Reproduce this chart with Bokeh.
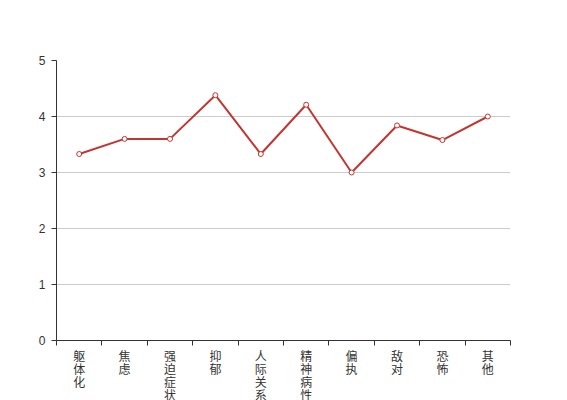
from bokeh.plotting import figure
from bokeh.layouts import column
from bokeh.models import FixedTicker, Range1d, ColumnDataSource
from bokeh.core.properties import value
from bokeh.embed import file_html
from bokeh.resources import INLINE

categories = ["躯体化", "焦虑", "强迫症状", "抑郁", "人际关系敏感", "精神病性", "偏执", "敌对", "恐怖", "其他"]
values = [3.33, 3.6, 3.6, 4.38, 3.33, 4.21, 3.0, 3.84, 3.58, 4.0]
y_ticks = [0, 1, 2, 3, 4, 5]

n = len(categories)
xs = [i + 0.5 for i in range(n)]
src = ColumnDataSource(dict(x=xs, y=values))
x_range = Range1d(0, n)

p = figure(width=567, height=348, output_backend="svg", toolbar_location=None,
           x_range=x_range, y_range=Range1d(0, 5),
           min_border_left=56, min_border_top=60, min_border_right=57, min_border_bottom=8)
p.outline_line_color = None

p.line("x", "y", source=src, line_color="#c23531", line_width=2)
p.scatter("x", "y", source=src, size=5, fill_color="white", line_color="#c23531", line_width=1)

# x axis: ticks at category boundaries
p.xaxis.ticker = FixedTicker(ticks=[], minor_ticks=list(range(n + 1)))
p.xaxis.major_label_text_font_size = "0px"
p.xaxis.major_label_standoff = 0
p.xaxis.minor_tick_out = 5
p.xaxis.minor_tick_in = 0
p.xaxis.minor_tick_line_color = "#333333"
p.xaxis.axis_line_color = "#333333"
p.xgrid.visible = False

# y axis
p.yaxis.ticker = FixedTicker(ticks=y_ticks)
p.yaxis.major_tick_out = 5
p.yaxis.major_tick_in = 0
p.yaxis.minor_tick_line_color = None
p.yaxis.axis_line_color = "#333333"
p.yaxis.major_tick_line_color = "#333333"
p.yaxis.major_label_text_font = "Liberation Sans"
p.yaxis.major_label_text_font_size = "12px"
p.yaxis.major_label_text_color = "#333333"
p.yaxis.major_label_standoff = 6
p.ygrid.ticker = FixedTicker(ticks=y_ticks[1:])
p.ygrid.grid_line_color = "#cccccc"

# category labels (vertical stacked characters) in a strip below, sharing the x range
lab_src = ColumnDataSource(dict(x=xs, y=[1] * n, text=["\n".join(c) for c in categories]))
q = figure(width=567, height=52, output_backend="svg", toolbar_location=None,
           x_range=x_range, y_range=Range1d(0, 1), x_axis_type=None, y_axis_type=None,
           min_border_left=56, min_border_top=0, min_border_right=57, min_border_bottom=0)
q.outline_line_color = None
q.grid.visible = False
q.text("x", "y", text="text", source=lab_src, text_align="center", text_baseline="top",
       text_font=value("Noto Sans CJK SC"), text_font_size="12px", text_color="#333333",
       text_line_height=0.77, y_offset=-2)

layout = column(p, q, spacing=0)
open("out.html", "w").write(file_html(layout, INLINE))
